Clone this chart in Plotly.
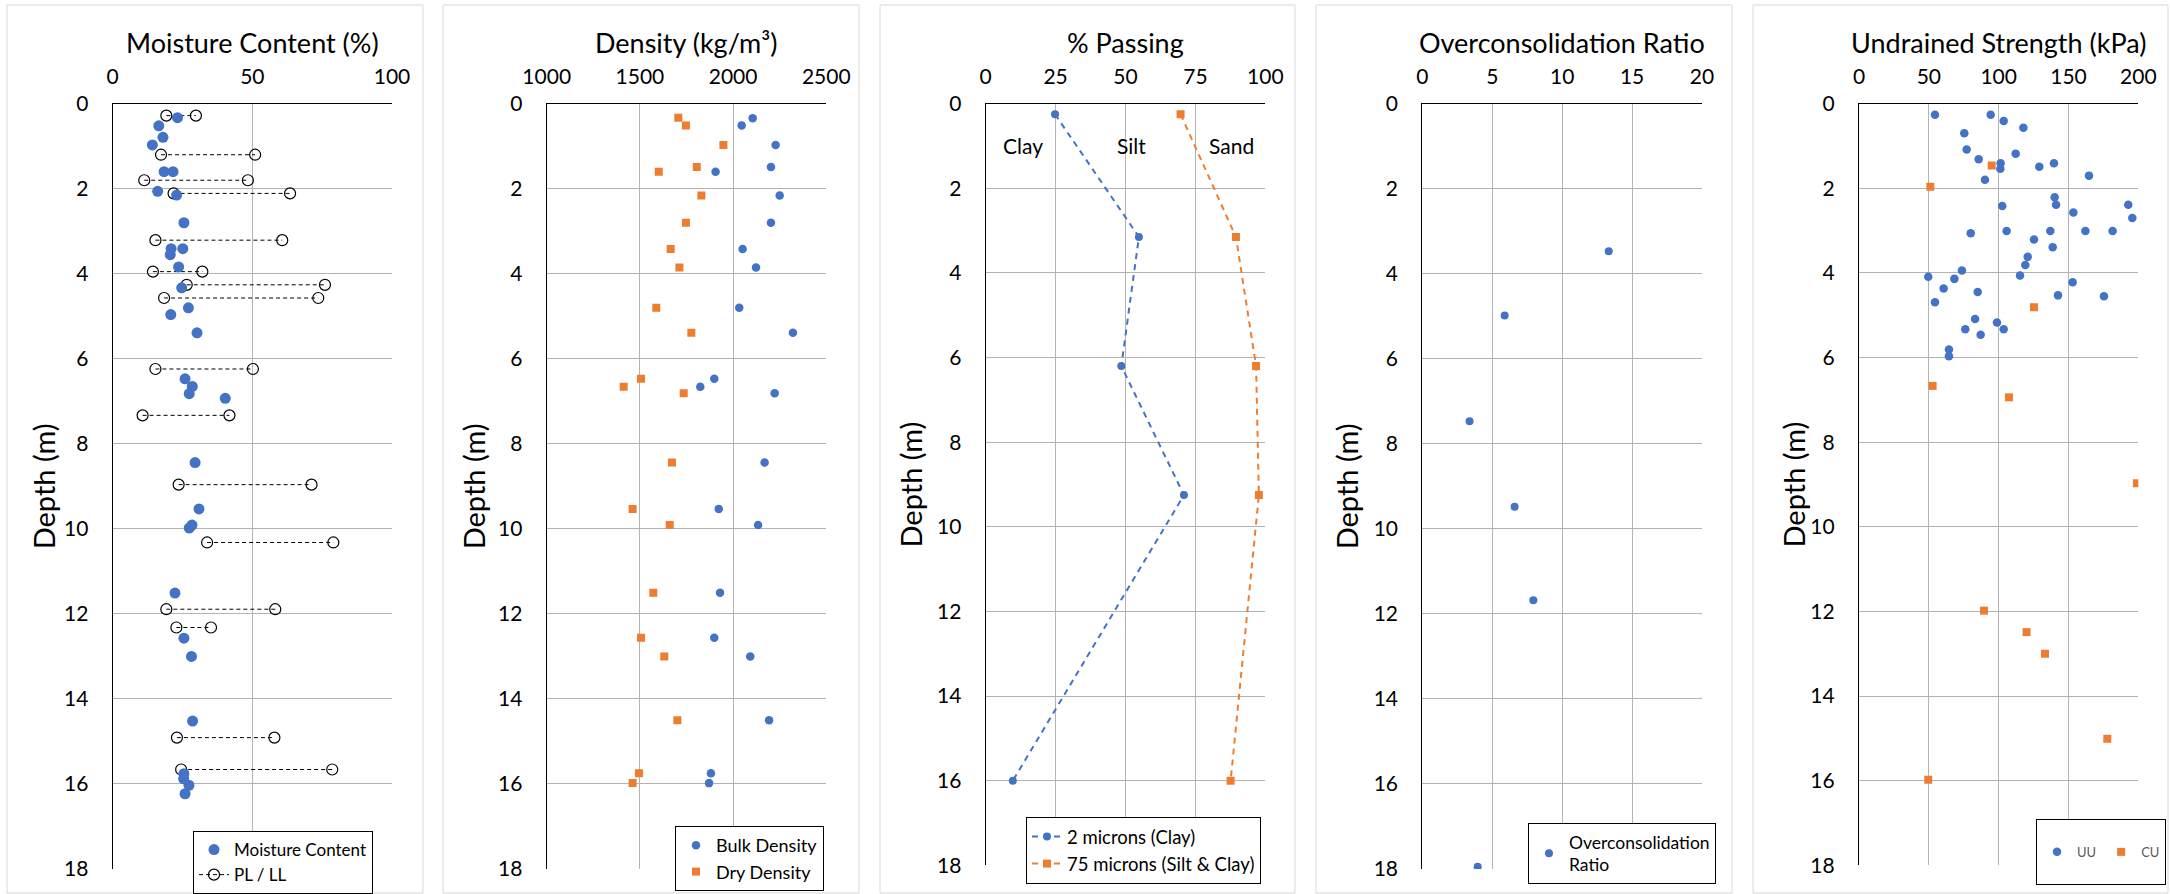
import plotly.graph_objects as go

W, H = 2170, 894
FONT = "Lato"
BLUE = "#4472C4"
ORANGE = "#ED7D31"
GRID = "#b3b3b3"

# ---------------- Data ----------------
# Panel 1: moisture content
mc_depth = [0.33, 0.52, 0.79, 0.97, 1.60, 1.60, 2.06, 2.15, 2.80, 3.41, 3.41, 3.55, 3.84, 4.33,
            4.80, 4.96, 5.39, 6.47, 6.65, 6.82, 6.93, 8.44, 9.53, 9.91, 9.98, 11.51, 12.57,
            13.00, 14.52, 15.76, 15.88, 16.03, 16.23]
mc_value = [23.2, 16.5, 18.0, 14.2, 18.4, 21.6, 16.1, 22.9, 25.5, 20.9, 25.1, 20.6, 23.6, 24.7,
            27.1, 20.8, 30.2, 25.9, 28.5, 27.4, 40.3, 29.5, 30.9, 28.4, 27.4, 22.3, 25.5,
            28.2, 28.6, 25.5, 25.4, 27.3, 25.9]
pl_depth = [0.28, 1.20, 1.80, 2.11, 3.21, 3.95, 4.26, 4.57, 6.24, 7.33, 8.96, 10.32, 11.89,
            12.32, 14.91, 15.66]
pl_value = [19.2, 17.3, 11.3, 21.8, 15.3, 14.4, 26.5, 18.4, 15.3, 10.7, 23.6, 33.8, 19.2,
            22.8, 23.0, 24.5]
ll_value = [29.8, 51.0, 48.4, 63.5, 60.7, 32.1, 76.0, 73.6, 50.2, 41.8, 71.2, 79.0, 58.2,
            35.2, 57.9, 78.6]

# Panel 2: density
bulk_depth = [0.34, 0.51, 0.97, 1.49, 1.60, 2.16, 2.80, 3.42, 3.85, 4.80, 5.39, 6.47, 6.66, 6.81,
              8.44, 9.53, 9.91, 11.50, 12.56, 13.00, 14.50, 15.75, 15.98]
bulk_value = [2105, 2046, 2228, 2203, 1906, 2250, 2203, 2051, 2123, 2033, 2321, 1899, 1824, 2223,
              2169, 1923, 2134, 1930, 1899, 2092, 2193, 1881, 1871]
dry_depth = [0.33, 0.51, 0.97, 1.49, 1.60, 2.16, 2.80, 3.42, 3.85, 4.80, 5.39, 6.47, 6.66, 6.81,
             8.44, 9.53, 9.91, 11.50, 12.56, 13.00, 14.50, 15.75, 15.98]
dry_value = [1706, 1747, 1948, 1805, 1601, 1830, 1747, 1665, 1712, 1588, 1776, 1506, 1413, 1735,
             1672, 1461, 1660, 1572, 1506, 1631, 1701, 1495, 1461]

# Panel 3: % passing
psd_depth = [0.25, 3.15, 6.2, 9.25, 16.0]
clay_2um = [24.8, 54.8, 48.5, 70.9, 9.7]
silt_clay_75um = [69.7, 89.5, 96.7, 97.7, 87.6]
zone_labels = ["Clay", "Silt", "Sand"]
zone_x = [13.5, 52.0, 88.0]
zone_y = [0.99, 0.99, 0.99]

# Panel 4: OCR
ocr_depth = [3.47, 4.98, 7.47, 9.48, 11.68, 17.95]
ocr_value = [13.33, 5.89, 3.38, 6.60, 7.94, 3.96]

# Panel 5: undrained strength
uu_depth = [0.26, 0.26, 0.41, 0.57, 0.70, 1.08, 1.18, 1.31, 1.41, 1.41, 1.54, 1.49, 1.70, 1.80,
            2.21, 2.42, 2.39, 2.39, 2.57, 2.70, 3.06, 3.01, 3.01, 3.01, 3.01, 3.21, 3.39, 3.62,
            3.81, 3.94, 4.09, 4.14, 4.06, 4.22, 4.37, 4.45, 4.53, 4.55, 4.69, 5.09, 5.17, 5.33,
            5.33, 5.46, 5.81, 5.97]
uu_value = [54.4, 94.3, 103.6, 117.7, 75.4, 77.1, 112.2, 85.7, 101.4, 139.6, 101.2, 129.1, 164.7,
            90.2, 140.1, 102.6, 141.1, 192.8, 153.5, 195.7, 80.0, 105.7, 137.0, 162.1, 181.6,
            125.3, 138.7, 120.8, 119.1, 73.7, 49.6, 68.3, 115.3, 153.0, 60.6, 85.0, 142.5, 175.4,
            54.4, 83.1, 98.8, 76.1, 103.6, 87.1, 64.4, 64.4]
cu_depth = [1.46, 1.96, 4.81, 6.67, 6.94, 8.97, 11.98, 12.49, 13.00, 15.01, 15.98]
cu_value = [95.0, 51.1, 125.3, 52.7, 107.4, 199.0, 89.5, 120.0, 133.2, 177.8, 49.6]

# ---------------- Layout helpers ----------------
def px(x):
    return x / W


def py(y):
    return 1 - y / H


panels = [
    dict(s="", left=112.7, right=392.0, top=103.7, bottom=869.0, rng=[0, 100], dtick=50,
         title="Moisture Content (%)", ytx=43, box=(7, 423)),
    dict(s="2", left=546.7, right=826.3, top=103.7, bottom=869.0, rng=[1000, 2500], dtick=500,
         title="Density (kg/m³)", ytx=473, box=(443, 859)),
    dict(s="3", left=985.7, right=1265.3, top=103.7, bottom=865.3, rng=[0, 100], dtick=25,
         title="% Passing", ytx=910, box=(880, 1295)),
    dict(s="4", left=1422.3, right=1702.0, top=103.7, bottom=869.0, rng=[0, 20], dtick=5,
         title="Overconsolidation Ratio", ytx=1346, box=(1316, 1732)),
    dict(s="5", left=1859.0, right=2138.3, top=103.7, bottom=865.3, rng=[0, 200], dtick=50,
         title="Undrained Strength (kPa)", ytx=1793, box=(1753, 2168)),
]

fig = go.Figure()

# Panel 1 traces
fig.add_trace(go.Scatter(
    x=sum([[p, l, None] for p, l in zip(pl_value, ll_value)], []),
    y=sum([[d, d, None] for d in pl_depth], []),
    mode="lines+markers", name="PL / LL", legend="legend", legendrank=2,
    line=dict(color="black", width=1, dash="4px,3px"),
    marker=dict(symbol="circle-open", size=11, color="black", line=dict(width=1.2)),
    xaxis="x", yaxis="y"))
fig.add_trace(go.Scatter(
    x=mc_value, y=mc_depth, mode="markers", name="Moisture Content", legend="legend",
    legendrank=1, marker=dict(symbol="circle", size=11, color=BLUE), xaxis="x", yaxis="y"))

# Panel 2 traces
fig.add_trace(go.Scatter(
    x=bulk_value, y=bulk_depth, mode="markers", name="Bulk Density", legend="legend2",
    marker=dict(symbol="circle", size=8.5, color=BLUE), xaxis="x2", yaxis="y2"))
fig.add_trace(go.Scatter(
    x=dry_value, y=dry_depth, mode="markers", name="Dry Density", legend="legend2",
    marker=dict(symbol="square", size=8, color=ORANGE), xaxis="x2", yaxis="y2"))

# Panel 3 traces
fig.add_trace(go.Scatter(
    x=clay_2um, y=psd_depth, mode="lines+markers", name="2 microns (Clay)", legend="legend3",
    line=dict(color=BLUE, width=2, dash="6px,5px"),
    marker=dict(symbol="circle", size=8, color=BLUE), xaxis="x3", yaxis="y3"))
fig.add_trace(go.Scatter(
    x=silt_clay_75um, y=psd_depth, mode="lines+markers", name="75 microns (Silt & Clay)",
    legend="legend3", line=dict(color=ORANGE, width=2, dash="6px,5px"),
    marker=dict(symbol="square", size=8, color=ORANGE), xaxis="x3", yaxis="y3"))

# Panel 4 trace
fig.add_trace(go.Scatter(
    x=ocr_value, y=ocr_depth, mode="markers", name="Overconsolidation<br>Ratio", legend="legend4",
    marker=dict(symbol="circle", size=8, color=BLUE), xaxis="x4", yaxis="y4"))

# Panel 5 traces (blank lines around the names make the legend box as tall as the original)
fig.add_trace(go.Scatter(
    x=uu_value, y=uu_depth, mode="markers", name=" <br>UU<br> ", legend="legend5",
    marker=dict(symbol="circle", size=8.5, color=BLUE), xaxis="x5", yaxis="y5"))
fig.add_trace(go.Scatter(
    x=cu_value, y=cu_depth, mode="markers", name=" <br>CU<br> ", legend="legend5",
    marker=dict(symbol="square", size=8, color=ORANGE), xaxis="x5", yaxis="y5"))

annotations = []
shapes = []
for p in panels:
    s = p["s"]
    fig.layout["xaxis" + s] = dict(
        domain=[px(p["left"]), px(p["right"])], range=p["rng"], dtick=p["dtick"],
        side="top", anchor="y" + s, showgrid=True, gridcolor=GRID, gridwidth=1,
        showline=True, linecolor="black", linewidth=1.2, zeroline=False, ticks="",
        tickfont=dict(family=FONT, size=21, color="black"), ticklabelstandoff=10,
        automargin=False, fixedrange=True)
    fig.layout["yaxis" + s] = dict(
        domain=[py(p["bottom"]), py(p["top"])], range=[18, 0], dtick=2,
        anchor="x" + s, showgrid=True, gridcolor=GRID, gridwidth=1,
        showline=True, linecolor="black", linewidth=1.2, zeroline=False, ticks="",
        tickfont=dict(family=FONT, size=21, color="black"), ticklabelstandoff=19,
        automargin=False, fixedrange=True)
    annotations.append(dict(
        text=p["title"], x=px((p["left"] + p["right"]) / 2), y=py(42), xref="paper",
        yref="paper", xanchor="center", yanchor="middle", showarrow=False,
        font=dict(family=FONT, size=27, color="black")))
    annotations.append(dict(
        text="Depth (m)", x=px(p["ytx"]), y=py((p["top"] + p["bottom"]) / 2), xref="paper",
        yref="paper", xanchor="center", yanchor="middle", textangle=-90, showarrow=False,
        font=dict(family=FONT, size=29, color="black")))
    shapes.append(dict(
        type="rect", xref="paper", yref="paper", x0=px(p["box"][0]), x1=px(p["box"][1]),
        y0=py(893), y1=py(5), line=dict(color="#d9d9d9", width=1), layer="below"))

for t, xv, yv in zip(zone_labels, zone_x, zone_y):
    annotations.append(dict(
        text=t, x=xv, y=yv, xref="x3", yref="y3", showarrow=False,
        font=dict(family=FONT, size=21, color="black")))


def leg(x, y, size, color="black", **kw):
    base = dict(x=px(x), y=py(y), bgcolor="white", bordercolor="black", borderwidth=1,
                xanchor="left", yanchor="top", font=dict(family=FONT, size=size, color=color))
    base.update(kw)
    return base


fig.update_layout(
    width=W, height=H, margin=dict(l=0, r=0, t=0, b=0, autoexpand=False),
    paper_bgcolor="white", plot_bgcolor="white",
    font=dict(family=FONT),
    showlegend=True,
    legend=leg(193, 831, 17),
    legend2=leg(675, 826, 18),
    legend3=leg(1026, 817, 18.5),
    legend4=leg(1528, 823, 17.5),
    legend5=leg(2036, 819, 13, color="#595959", orientation="h"),
    annotations=annotations,
    shapes=shapes,
)

fig.write_html("out.html")
